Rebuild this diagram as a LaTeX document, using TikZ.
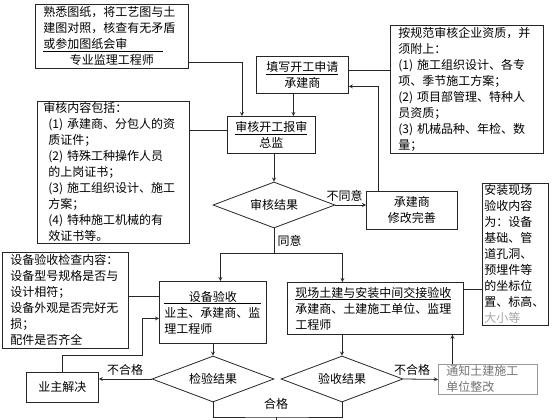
\documentclass[tikz,border=0pt]{standalone}
\usepackage{fontspec}
\setmainfont{Noto Sans CJK SC}
\usetikzlibrary{shapes.geometric, arrows}
\tikzstyle{process} = [
    rectangle,
    anchor=north west,
    inner xsep=8pt,
    inner ysep=0pt,
    draw=black!85,
    line width=0.8pt
]
\tikzstyle{decision} = [
    diamond,
    aspect=2.65,
    inner sep=0pt,
    minimum width=122pt,
    minimum height=46pt,
    draw=black!85,
    line width=0.8pt
]
\tikzstyle{arrow} = [line width=0.8pt, draw=black!85, ->, >=stealth]
\tikzstyle{link} = [line width=0.8pt, draw=black!85]

\begin{document}
\begin{tikzpicture}[x=1pt, y=-1pt, font=\fontsize{12pt}{16pt}\selectfont]
\useasboundingbox (0,0) rectangle (560,420);

\node (tuzhi) [process, align=left, text width=137pt, minimum width=153pt, minimum height=64pt] at (35,4)
{熟悉图纸，将工艺图与土\\建图对照，核查有无矛盾\\\underline{或参加图纸会审\hspace{36pt}}\\\makebox[137pt]{专业监理工程师}};

\node (tianxie) [process, align=center, minimum width=92pt, minimum height=37pt] at (256,56)
{\underline{填写开工申请}\\承建商};

\node (shenhe) [process, align=center, minimum width=81pt, minimum height=37pt] at (227,116)
{\underline{审核开工报审}\\总监};

\node (guifan) [process, align=left, text width=137pt, minimum width=153pt, minimum height=128pt] at (390,25)
{按规范审核企业资质，并\\须附上：\\(1) 施工组织设计、各专\\项、季节施工方案；\\(2) 项目部管理、特种人\\员资质；\\(3) 机械品种、年检、数\\量；};

\node (neirong) [process, align=left, inner xsep=11pt, text width=130pt, minimum width=152pt, minimum height=142pt] at (37,101)
{\hspace*{-5pt}审核内容包括：\\(1) 承建商、分包人的资\\质证件；\\(2) 特殊工种操作人员\\的上岗证书；\\(3) 施工组织设计、施工\\方案；\\(4) 特种施工机械的有\\效证书等。};

\node (juece) [decision] at (274,205) {审核结果};

\node (xiugai) [process, align=center, minimum width=91pt, minimum height=38pt] at (366,191)
{承建商\\修改完善};

\node (jiancha) [process, align=left, text width=110pt, minimum width=126pt, minimum height=96pt] at (2,252)
{设备验收检查内容：\\设备型号规格是否与\\设计相符；\\设备外观是否完好无\\损；\\配件是否齐全};

\node (anzhuang) [process, align=left, inner xsep=2pt, text width=62pt, minimum width=66pt, minimum height=142pt] at (482,183)
{安装现场\\验收内容\\为：设备\\基础、管\\道孔洞、\\预埋件等\\的坐标位\\置、标高、\\\textcolor{black!35}{大小等}};

\node (shebei) [process, align=left, inner xsep=5pt, text width=97pt, minimum width=107pt, minimum height=62pt] at (159,281)
{\underline{\makebox[97pt]{设备验收}}\\业主、承建商、监\\理工程师};

\node (xianchang) [process, align=left, text width=160pt, minimum width=176pt, minimum height=52pt] at (287,282)
{\underline{现场土建与安装中间交接验收}\\承建商、土建施工单位、监理\\工程师};

\node (jianyan) [decision] at (213,379) {检验结果};

\node (yanshou) [decision] at (342,379) {验收结果};

\node (yezhu) [process, align=center, minimum width=72pt, minimum height=30pt] at (26,372)
{业主解决};

\node (tongzhi) [process, align=left, draw=black!40, text=black!55, text width=83pt, minimum width=99pt, minimum height=30pt] at (438,364)
{通知土建施工\\单位整改};

\coordinate (fork) at ([yshift=-25pt]juece.south);
\coordinate (back) at (142,355);
\coordinate (hege) at (276,417);

\draw [arrow] ([yshift=-26pt]tuzhi.east) -| ([xshift=-29.5pt]shenhe.north);
\draw [arrow] ([xshift=-9pt]tianxie.south) -- ([xshift=-9pt]tianxie.south |- shenhe.north);
\draw [link] ([yshift=4.5pt]tianxie.east) -- ([yshift=4.5pt]tianxie.east -| guifan.west);
\draw [link] ([yshift=4.5pt]shenhe.west) -- ([yshift=4.5pt]shenhe.west -| neirong.east);
\draw [arrow] (shenhe.south -| juece.north) -- (juece.north);
\draw [arrow] (juece.east) -- (juece.east -| xiugai.west) node[pos=0.3, above] {不同意};
\draw [arrow] ([xshift=-33.5pt]xiugai.north) |- ([yshift=-11.5pt]tianxie.east);
\draw [link] (juece.south) -- (fork) node[midway, right] {同意};
\draw [arrow] (fork) -| ([xshift=7.5pt]shebei.north);
\draw [arrow] (fork) -| ([xshift=-33pt]xianchang.north);
\draw [link] ([yshift=4pt]jiancha.east) -- ([yshift=4pt]jiancha.east -| shebei.west);
\draw [link] ([yshift=19pt]xianchang.east) -- ([yshift=19pt]xianchang.east -| anzhuang.west);
\draw [arrow] (shebei.south -| jianyan.north) -- (jianyan.north);
\draw [arrow] (xianchang.south -| yanshou.north) -- (yanshou.north);
\draw [arrow] (jianyan.west) -- (jianyan.west -| yezhu.east) node[midway, above] {不合格};
\draw [arrow] (yanshou.east) -- (tongzhi.west) node[pos=0.25, above] {不合格};
\draw [arrow] ([xshift=-35.5pt]tongzhi.north) -- ([xshift=-35.5pt]tongzhi.north |- xianchang.south);
\draw [arrow] (yezhu.north) |- (back) |- ([yshift=-6pt]shebei.west);
\draw [link] (jianyan.south) |- (hege) -| (yanshou.south);
\draw [link] (hege) -- ++(0,5);
\node (hegelabel) at ([yshift=13pt]hege) {合格};

\end{tikzpicture}
\end{document}
